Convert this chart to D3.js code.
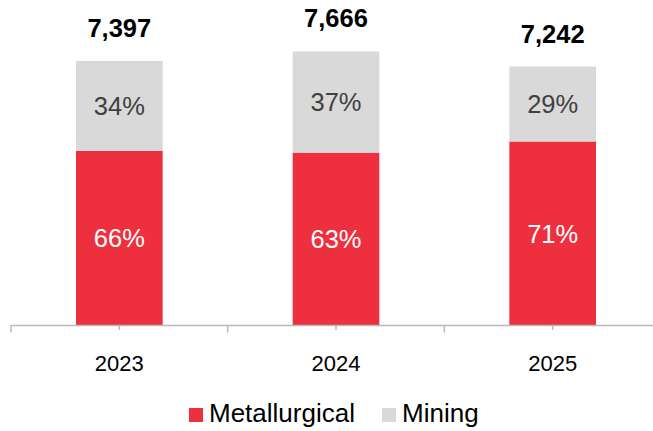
<!DOCTYPE html>
<html><head><meta charset="utf-8">
<script src="https://cdn.jsdelivr.net/npm/d3@7"></script>
<style>body{margin:0;background:#fff}svg{display:block;font-family:"Liberation Sans",Arial,sans-serif}</style>
</head><body><svg id="c" width="653" height="431"></svg>
<script>
const years = ["2023", "2024", "2025"];
const totals = [7397, 7666, 7242];
const metallurgicalPct = [66, 63, 71];
const miningPct = [34, 37, 29];
const seriesNames = ["Metallurgical", "Mining"];
const colors = {Metallurgical: "#EE2F3D", Mining: "#D9D9D9"};

const svg = d3.select("#c");
const x0 = 11, x1 = 661, yBase = 325;
const x = d3.scaleBand().domain(years).range([x0, x1]).paddingInner(0.6).paddingOuter(0.3);
const y = d3.scaleLinear().domain([0, 9000]).range([yBase, yBase - 9000 * 264 / 7397]);

const rows = years.map((yr, i) => ({
  year: yr,
  Metallurgical: totals[i] * metallurgicalPct[i] / 100,
  Mining: totals[i] * miningPct[i] / 100,
  pct: {Metallurgical: metallurgicalPct[i], Mining: miningPct[i]},
  total: totals[i]
}));
const stack = d3.stack().keys(seriesNames)(rows);

const g = svg.append("g");
stack.forEach(layer => {
  const key = layer.key;
  g.selectAll(null).data(layer).enter().append("rect")
    .attr("x", d => x(d.data.year))
    .attr("width", x.bandwidth())
    .attr("y", d => y(d[1]))
    .attr("height", d => y(d[0]) - y(d[1]))
    .attr("fill", colors[key]);
  g.selectAll(null).data(layer).enter().append("text")
    .attr("x", d => x(d.data.year) + x.bandwidth() / 2)
    .attr("y", d => (y(d[0]) + y(d[1])) / 2)
    .attr("dy", "0.37em")
    .attr("text-anchor", "middle")
    .attr("font-size", 25.5)
    .attr("fill", key === "Metallurgical" ? "#ffffff" : "#404040")
    .text(d => d.data.pct[key] + "%");
});

// totals
g.selectAll(null).data(rows).enter().append("text")
  .attr("x", d => x(d.year) + x.bandwidth() / 2)
  .attr("y", d => y(d.total) - 24)
  .attr("text-anchor", "middle")
  .attr("font-size", 25.5)
  .attr("font-weight", "bold")
  .attr("fill", "#000")
  .text(d => d3.format(",")(d.total));

// axis
const axisColor = "#B8B8C2";
svg.append("line").attr("x1", x0).attr("x2", x1).attr("y1", yBase + 0.5).attr("y2", yBase + 0.5)
  .attr("stroke", axisColor).attr("stroke-width", 1.5);
const edges = d3.range(years.length + 1).map(i => x0 + i * (x1 - x0) / years.length);
svg.selectAll(null).data(edges).enter().append("line")
  .attr("x1", d => d).attr("x2", d => d).attr("y1", yBase).attr("y2", yBase + 7.5)
  .attr("stroke", axisColor).attr("stroke-width", 1.5);
svg.selectAll(null).data(years).enter().append("line")
  .attr("x1", d => x(d) + x.bandwidth() / 2).attr("x2", d => x(d) + x.bandwidth() / 2)
  .attr("y1", yBase).attr("y2", yBase + 5)
  .attr("stroke", axisColor).attr("stroke-width", 1.5);
svg.selectAll(null).data(years).enter().append("text")
  .attr("x", d => x(d) + x.bandwidth() / 2)
  .attr("y", 371)
  .attr("text-anchor", "middle")
  .attr("font-size", 22)
  .attr("fill", "#000")
  .text(d => d);

// legend
const legendItems = [{name: "Metallurgical", sx: 189}, {name: "Mining", sx: 382}];
const lg = svg.selectAll(null).data(legendItems).enter().append("g");
lg.append("rect").attr("x", d => d.sx).attr("y", 408).attr("width", 14).attr("height", 14)
  .attr("fill", d => colors[d.name]);
lg.append("text").attr("x", d => d.sx + 20).attr("y", 422)
  .attr("font-size", 26).attr("fill", "#000").text(d => d.name);
</script></body></html>
